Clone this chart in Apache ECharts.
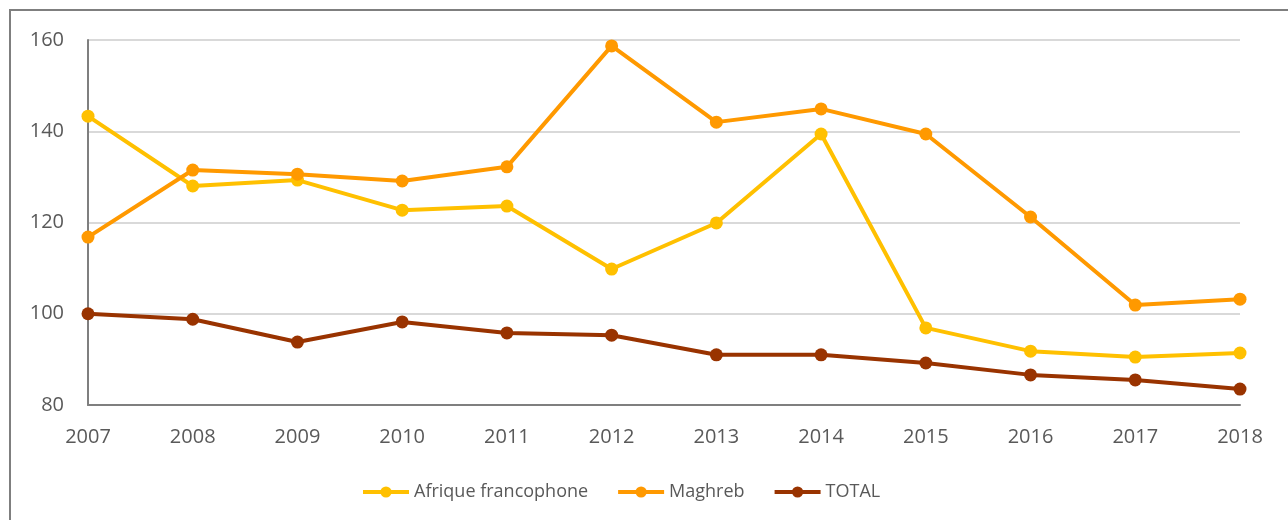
<!DOCTYPE html>
<html>
<head>
<meta charset="utf-8">
<script src="https://cdn.jsdelivr.net/npm/echarts@6/dist/echarts.min.js"></script>
<style>
  html, body { margin: 0; padding: 0; background: #fff; }
  #chart { width: 1288px; height: 520px; }
</style>
</head>
<body>
<div id="chart"></div>
<script>
const years = ['2007', '2008', '2009', '2010', '2011', '2012', '2013', '2014', '2015', '2016', '2017', '2018'];
const afrique = [143.3, 128.0, 129.3, 122.7, 123.6, 109.8, 119.9, 139.4, 96.9, 91.8, 90.5, 91.4];
const maghreb = [116.8, 131.5, 130.6, 129.1, 132.2, 158.7, 142.0, 144.9, 139.4, 121.2, 101.9, 103.2];
const total = [100.0, 98.8, 93.8, 98.2, 95.8, 95.3, 91.0, 91.0, 89.2, 86.6, 85.5, 83.5];

const font = '"Open Sans", "Liberation Sans", sans-serif';

function lineSeries(name, data, color) {
  return {
    name: name,
    type: 'line',
    data: data,
    symbol: 'circle',
    symbolSize: 13,
    lineStyle: { width: 4, color: color },
    itemStyle: { color: color },
    emphasis: { disabled: true }
  };
}

const chart = echarts.init(document.getElementById('chart'));
chart.setOption({
  animation: false,
  color: ['#FFC000', '#FF9900', '#993300'],
  graphic: [{
    type: 'rect',
    shape: { x: 10, y: 10, width: 1400, height: 700 },
    style: { fill: 'none', stroke: '#7F7F7F', lineWidth: 2 },
    silent: true
  }],
  grid: { left: 88, right: 48, top: 40, bottom: 115 },
  legend: {
    top: 478,
    left: 356,
    itemWidth: 46,
    itemHeight: 14,
    itemGap: 28,
    lineStyle: { width: 4 },
    textStyle: { fontFamily: font, fontSize: 18, color: '#595959' },
    data: ['Afrique francophone', 'Maghreb', 'TOTAL']
  },
  xAxis: {
    type: 'category',
    data: years,
    boundaryGap: false,
    axisLine: { lineStyle: { color: '#7F7F7F', width: 2 } },
    axisTick: { show: false },
    axisLabel: { fontFamily: font, fontSize: 20, color: '#595959', margin: 22 }
  },
  yAxis: {
    type: 'value',
    min: 80,
    max: 160,
    interval: 20,
    axisLine: { show: true, lineStyle: { color: '#7F7F7F', width: 2 } },
    axisTick: { show: false },
    splitLine: { lineStyle: { color: '#D9D9D9', width: 2 } },
    axisLabel: { fontFamily: font, fontSize: 20, color: '#595959', margin: 24 }
  },
  series: [
    lineSeries('Afrique francophone', afrique, '#FFC000'),
    lineSeries('Maghreb', maghreb, '#FF9900'),
    lineSeries('TOTAL', total, '#993300')
  ]
});
</script>
</body>
</html>
